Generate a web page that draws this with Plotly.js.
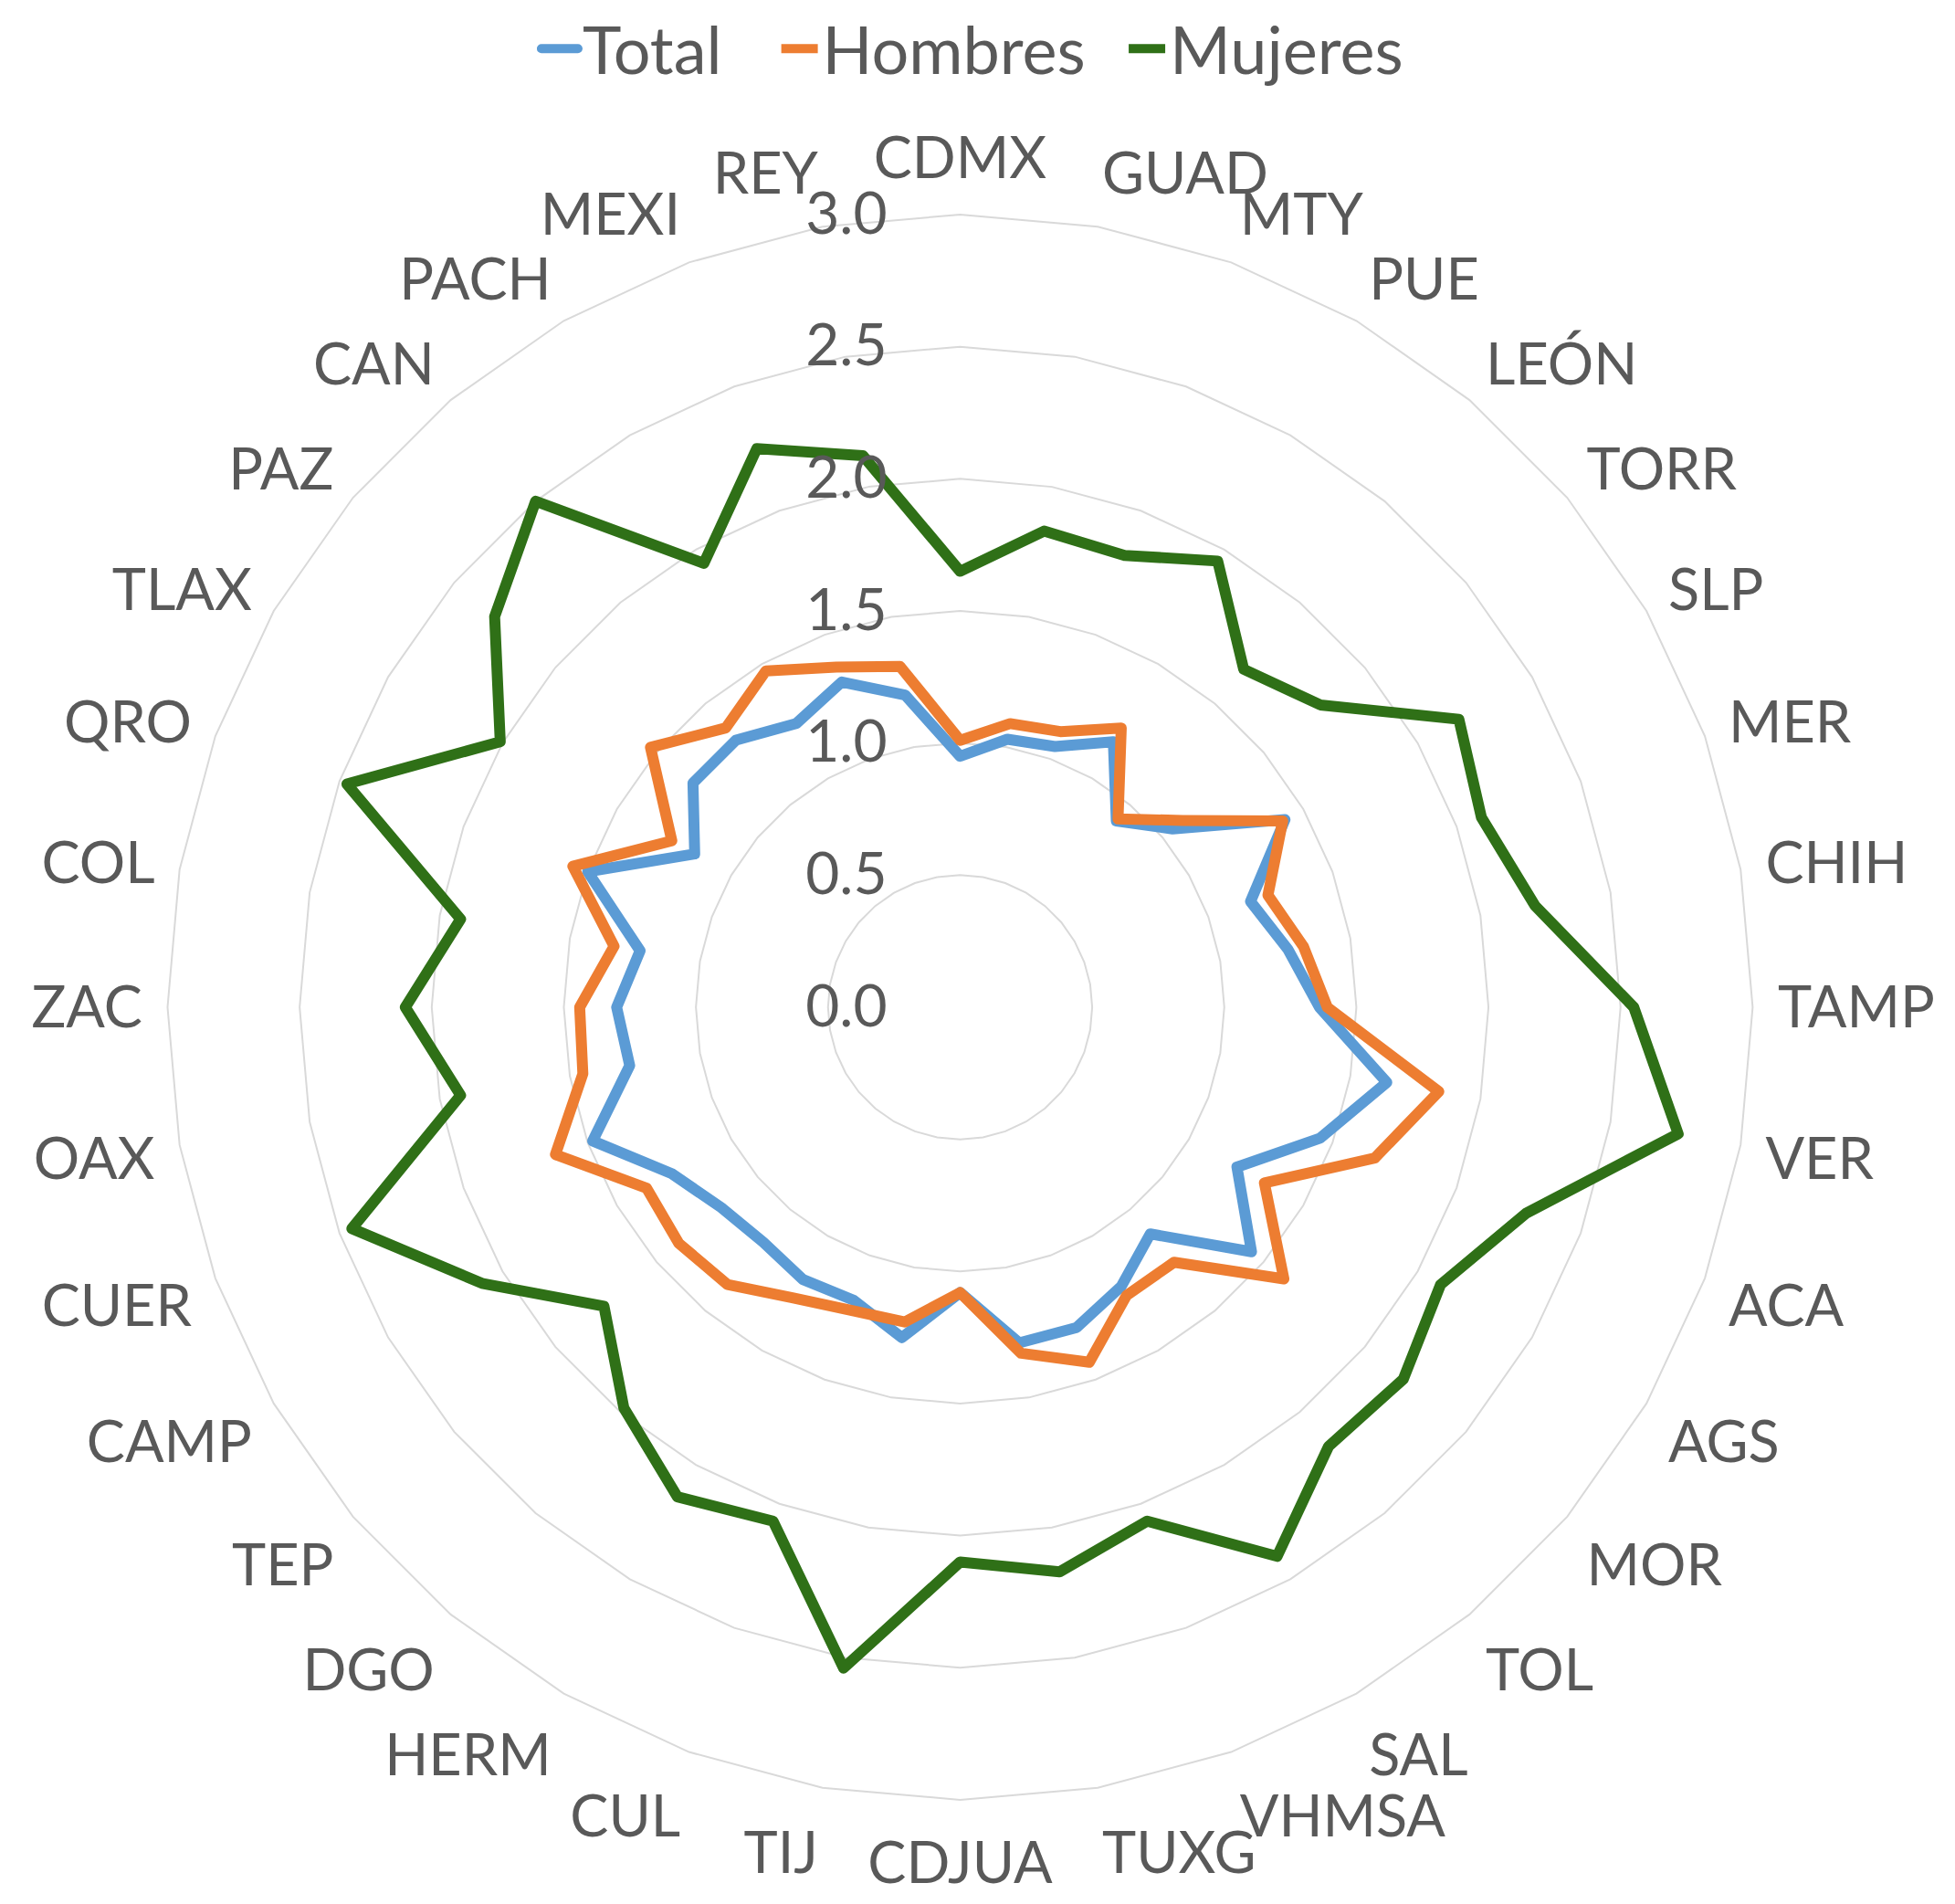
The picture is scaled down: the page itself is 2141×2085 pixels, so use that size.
<!DOCTYPE html>
<html><head><meta charset="utf-8">
<script src="https://cdn.plot.ly/plotly-3.0.1.min.js"></script>
<style>
html,body{margin:0;padding:0;background:#fff;}
.scatterlayer path.js-line, .legend path.js-line{stroke-linejoin:round;stroke-linecap:round;}
</style>
</head><body>
<div id="chart" style="width:2141px;height:2085px;"></div>
<script>
const categories = ['CDMX','GUAD','MTY','PUE','LEÓN','TORR','SLP','MER','CHIH','TAMP','VER','ACA','AGS','MOR','TOL','SAL','VHMSA','TUXG','CDJUA','TIJ','CUL','HERM','DGO','TEP','CAMP','CUER','OAX','ZAC','COL','QRO','TLAX','PAZ','CAN','PACH','MEXI','REY'];
const total   = [0.95,1.03,1.05,1.16,0.92,1.05,1.42,1.17,1.26,1.36,1.64,1.45,1.21,1.44,1.12,1.22,1.29,1.29,1.08,1.27,1.18,1.19,1.16,1.18,1.26,1.48,1.27,1.30,1.23,1.50,1.16,1.32,1.32,1.24,1.31,1.20];
const hombres = [1.01,1.09,1.11,1.22,0.93,1.10,1.41,1.24,1.32,1.39,1.84,1.67,1.33,1.60,1.26,1.26,1.43,1.33,1.08,1.21,1.22,1.27,1.37,1.39,1.37,1.63,1.45,1.44,1.33,1.56,1.26,1.53,1.38,1.47,1.37,1.31];
const mujeres = [1.65,1.83,1.82,1.95,1.67,1.78,2.18,2.10,2.21,2.55,2.76,2.28,2.10,2.19,2.17,2.40,2.07,2.17,2.10,2.54,2.07,2.14,1.98,1.76,2.09,2.45,1.92,2.10,1.92,2.47,2.01,2.30,2.50,1.94,2.25,2.12];
const seriesNames = ['Total','Hombres','Mujeres'];
const seriesColors = ['#5b9bd5','#ed7d31','#2f7017'];
const radialTicks = [0,0.5,1,1.5,2,2.5,3];
const radialTickLabels = ['0.0','0.5','1.0','1.5','2.0','2.5','3.0'];

const fontFamily = 'Lato, "Open Sans", sans-serif';
const textColor = '#595959';
const closeLoop = a => a.concat([a[0]]);
const legendIds = ['legend','legend2','legend3'];
const legendX = [0.2746, 0.3973, 0.575];

const traces = [total, hombres, mujeres].map((vals, i) => ({
  type: 'scatterpolar',
  mode: 'lines',
  name: seriesNames[i],
  legend: legendIds[i],
  r: closeLoop(vals),
  theta: closeLoop(categories),
  line: {color: seriesColors[i], width: 12},
  hoverinfo: 'skip'
}));

const legendStyle = x => ({
  orientation: 'h', x: x, xanchor: 'left', y: 1.0, yanchor: 'top',
  font: {family: fontFamily, color: textColor, size: 72},
  itemwidth: 40, bgcolor: 'rgba(0,0,0,0)'
});

const layout = {
  width: 2141, height: 2085,
  margin: {l: 0, r: 0, t: 0, b: 0},
  paper_bgcolor: '#ffffff',
  font: {family: fontFamily, color: textColor, size: 64},
  showlegend: true,
  legend: legendStyle(legendX[0]),
  legend2: legendStyle(legendX[1]),
  legend3: legendStyle(legendX[2]),
  polar: {
    domain: {x: [0.0857, 0.8965], y: [0.0547, 0.8873]},
    gridshape: 'linear',
    bgcolor: '#ffffff',
    radialaxis: {
      range: [0, 3],
      tickvals: radialTicks,
      ticktext: radialTickLabels,
      angle: 90,
      tickangle: 90,
      side: 'counterclockwise',
      showline: false,
      ticks: 'outside',
      ticklen: 57,
      tickcolor: 'rgba(0,0,0,0)',
      showgrid: true,
      gridcolor: '#d9d9d9',
      gridwidth: 2,
      tickfont: {family: fontFamily, color: textColor, size: 64}
    },
    angularaxis: {
      type: 'category',
      categoryorder: 'array',
      categoryarray: categories,
      direction: 'clockwise',
      rotation: 90,
      showgrid: false,
      showline: true,
      linecolor: '#d9d9d9',
      linewidth: 2,
      ticks: 'outside',
      ticklen: 14,
      tickcolor: 'rgba(0,0,0,0)',
      tickfont: {family: fontFamily, color: textColor, size: 63}
    }
  }
};

Plotly.newPlot('chart', traces, layout, {staticPlot: true});
</script>
</body></html>
